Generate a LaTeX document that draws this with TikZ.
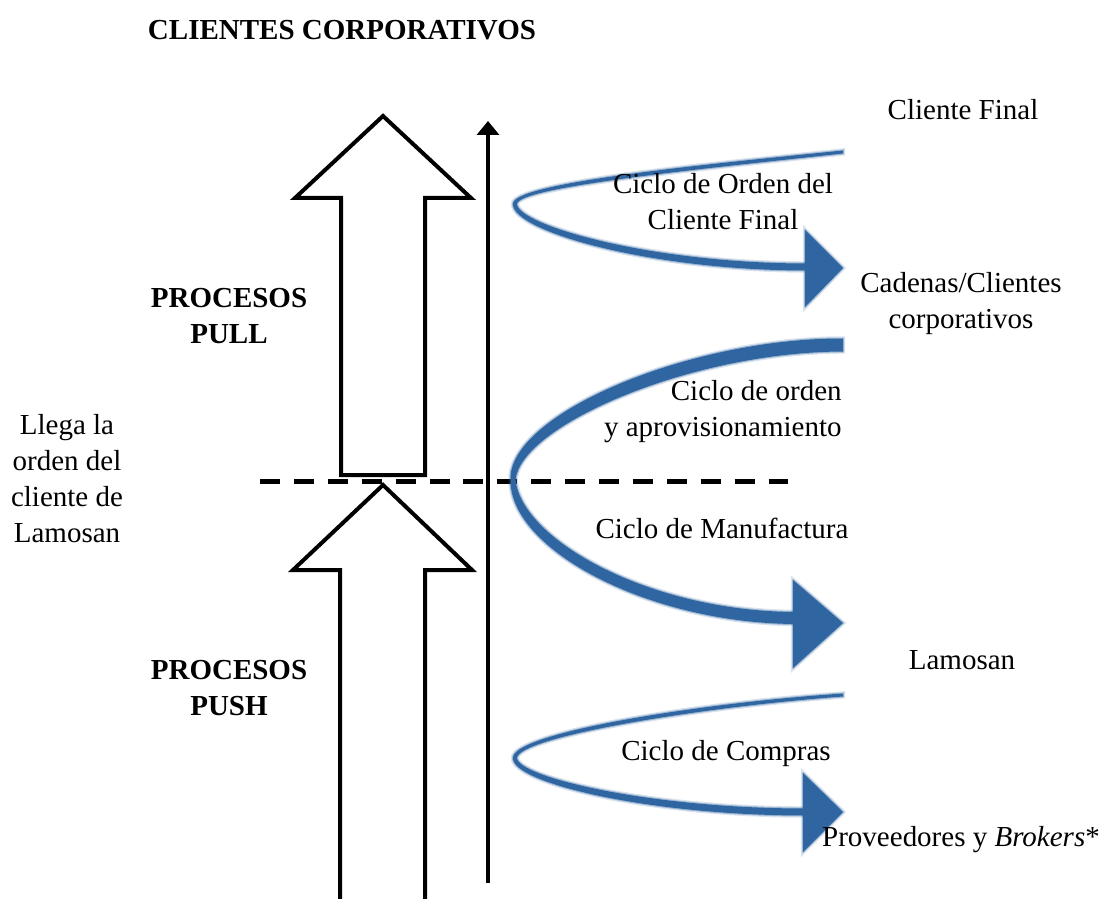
\documentclass[tikz,border=0pt]{standalone}
\usepackage{fontspec}
\setmainfont{Liberation Serif}
\usetikzlibrary{arrows.meta}
\definecolor{loopblue}{RGB}{47,101,160}
\begin{document}
\begin{tikzpicture}[x=0.5pt,y=-0.5pt,
  lbl/.style={font=\fontsize{14.5}{18}\selectfont, inner sep=0pt, align=center},
  hdr/.style={lbl, font=\fontsize{14.5}{18}\selectfont\bfseries},
  blockarrow/.style={draw=black, line width=2pt, line join=miter, miter limit=10},
  axisline/.style={line width=2pt, -{Triangle[length=7pt,width=11pt]}},
  cutline/.style={line width=2.5pt, dash pattern=on 10pt off 6.95pt},
  softedge/.style={preaction={draw=loopblue, draw opacity=0.18, line width=2.2pt}},
  loopband/.style={softedge, fill=loopblue, draw=loopblue, draw opacity=0.35, line width=1pt},
  loophead/.style={softedge, fill=loopblue, draw=loopblue, draw opacity=0.35, line width=1pt, line join=round},
]
\useasboundingbox (0,0) rectangle (1109,899);

% order decoupling line
\coordinate (cutL) at (260,481);
\coordinate (cutR) at (788,481);
\draw[cutline] (cutL) -- (cutR);

% pull block arrow
\draw[blockarrow] (341,475) -- (341,198) -- (295,198) -- (383,116) -- (471,198)
  -- (425,198) -- (425,475) -- cycle;

% push block arrow (open at the bottom)
\draw[blockarrow] (340,899) -- (340,570) -- (293,570) -- (383,485) -- (472,570)
  -- (425,570) -- (425,899);

% time axis
\coordinate (axisB) at (488,883);
\coordinate (axisT) at (488,121);
\draw[axisline] (axisB) -- (axisT);

% customer order cycle
\path[loopband] (843,150.5) .. controls (700,165) and (512,183) .. (513,204)
  .. controls (512,231) and (650,270.5) .. (808,270.5)
  -- (808,263.5) .. controls (650,263.5) and (518,225) .. (517,204)
  .. controls (518,187) and (700,169) .. (843,153.5) -- cycle;
\path[loophead] (805,230) -- (843,268) -- (805,307) -- cycle;

% replenishment / manufacturing cycle
\path[loopband] (843,338.5) .. controls (690,338) and (508,414) .. (510.5,480)
  .. controls (510,550) and (650,624) .. (798,624)
  -- (798,612) .. controls (650,612) and (522,540) .. (515.5,480)
  .. controls (520,426) and (690,352) .. (843,351.5) -- cycle;
\path[loophead] (793,580) -- (843,623) -- (793,668) -- cycle;

% procurement cycle
\path[loopband] (843,693.5) .. controls (700,703) and (512,733) .. (513,758)
  .. controls (512,783) and (650,815.5) .. (806,815.5)
  -- (806,808.5) .. controls (650,808.5) and (518,777) .. (517,758)
  .. controls (518,737) and (700,707) .. (843,696.5) -- cycle;
\path[loophead] (803,773) -- (843,812) -- (803,852) -- cycle;

% labels
\node[hdr] (title) at (342,30) {CLIENTES CORPORATIVOS};
\node[lbl] (final) at (963,110) {Cliente Final};
\node[lbl] (ordlbl) at (723,202) {Ciclo de Orden del\\Cliente Final};
\node[lbl] (cadenas) at (961,304) {Cadenas/Clientes\\corporativos};
\node[lbl, align=right, anchor=east] (aprov) at (842,412) {Ciclo de orden\\y aprovisionamiento};
\node[lbl] (manuf) at (722,528) {Ciclo de Manufactura};
\node[lbl] (lamosan) at (962,660) {Lamosan};
\node[lbl] (compras) at (726,754) {Ciclo de Compras};
\node[lbl] (prov) at (961,840) {Proveedores y \textit{Brokers}*};
\node[hdr] (pull) at (229,316) {PROCESOS\\PULL};
\node[hdr] (push) at (229,688) {PROCESOS\\PUSH};
\node[lbl] (llega) at (67,479) {Llega la\\orden del\\cliente de\\Lamosan};
\end{tikzpicture}
\end{document}
